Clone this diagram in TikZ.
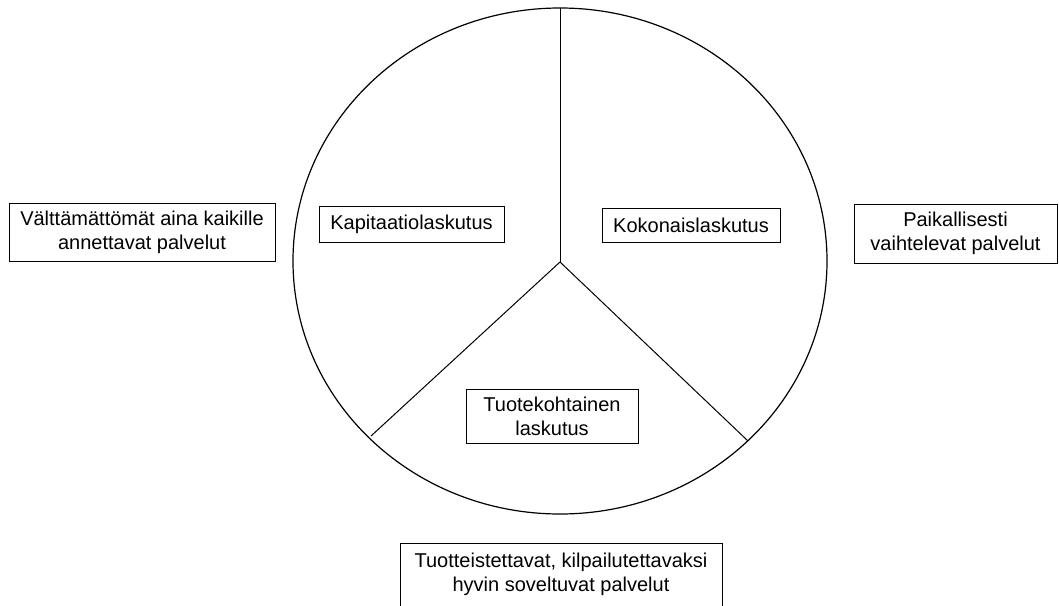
\documentclass[tikz,border=0pt]{standalone}
\usepackage{fontspec}
\setmainfont{Liberation Sans}
\begin{document}
\begin{tikzpicture}[x=1pt,y=-1pt,
  box/.style={draw,line width=1pt,inner sep=0pt,align=center,
    font=\fontsize{20}{24}\selectfont},
  label/.style={inner sep=0pt,align=center,font=\fontsize{20}{24}\selectfont},
  rim/.style={line width=1.2pt},
  spoke/.style={line width=1pt}]
\useasboundingbox (0,0) rectangle (1059,605);
\clip (0,0) rectangle (1059,605);
% circle and spokes
\draw[rim] (560,261) ellipse [x radius=267, y radius=253];
\coordinate (hub) at (560,262);
\coordinate (ptop) at (560,8);
\coordinate (pleft) at (371,436);
\coordinate (pright) at (748,441);
\draw[spoke] (hub) -- (ptop);
\draw[spoke] (hub) -- (pleft);
\draw[spoke] (hub) -- (pright);
% inner boxes
\node[box,minimum width=185pt,minimum height=36pt] (kap) at (411.5,224) {Kapitaatiolaskutus};
\node[box,minimum width=178pt,minimum height=34pt] (kok) at (691,225) {Kokonaislaskutus};
\node[box,minimum width=172pt,minimum height=54pt] (tuo) at (552,416) {Tuotekohtainen\\laskutus};
% outer boxes
\node[box,minimum width=266pt,minimum height=58pt] (valt) at (142,232) {Välttämättömät aina kaikille\\annettavat palvelut};
\node[box,minimum width=203pt,minimum height=59pt] (paik) at (955.5,233.5) {Paikallisesti\\vaihtelevat palvelut};
\node[box,minimum width=322pt,minimum height=100pt,anchor=north] (tuot) at (561,543) {};
\node[label] (tuott) at (561,574) {Tuotteistettavat, kilpailutettavaksi\\hyvin soveltuvat palvelut};
\end{tikzpicture}
\end{document}
